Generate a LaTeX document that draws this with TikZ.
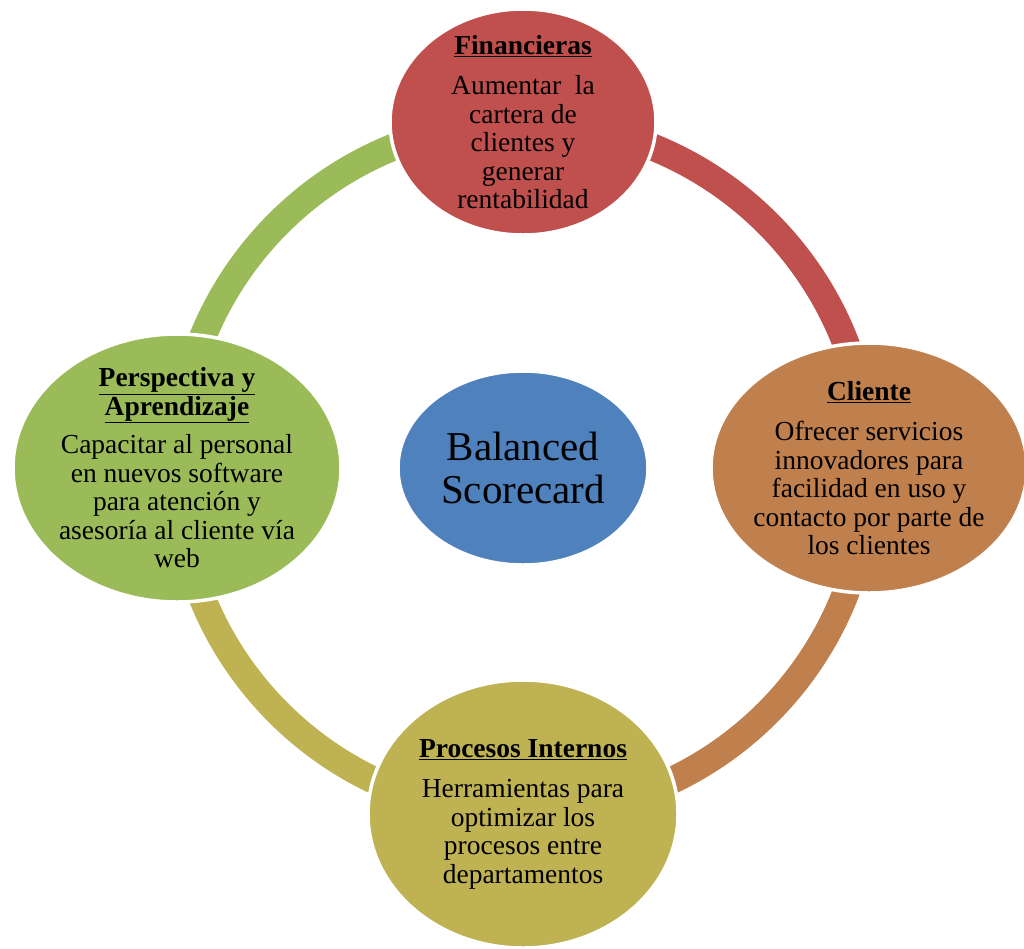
\documentclass[tikz,border=0pt]{standalone}
\usepackage{fontspec}
\setmainfont{Liberation Serif}
\usetikzlibrary{positioning,shapes.geometric,backgrounds}
\definecolor{bscblue}{HTML}{4F81BD}
\definecolor{finred}{HTML}{C0504D}
\definecolor{cliorange}{HTML}{C0804D}
\definecolor{prolive}{HTML}{BFB253}
\definecolor{pergreen}{HTML}{9BBB59}
\newcommand{\ttl}[1]{\underline{\textbf{#1}}}

\begin{document}
\begin{tikzpicture}[x=1pt, y=1pt, node distance=346pt,
main node/.style={ellipse,draw=white,line width=3.5pt,inner sep=0pt},
label text/.style={align=center,font=\fontsize{27.5}{28.5}\selectfont},
ring/.style={line width=27pt}]

\useasboundingbox (0,0) rectangle (1024,-948);

\node[main node] [fill=bscblue, minimum width=250pt, minimum height=194pt] (bsc) at (523,-468) {};
\node[main node] [fill=finred, minimum width=266pt, minimum height=226pt] (fin) [above of=bsc] {};
\node[main node] [fill=cliorange, minimum width=316pt, minimum height=250pt] (cli) [right of=bsc] {};
\node[main node] [fill=prolive, minimum width=310pt, minimum height=268pt] (pro) [below of=bsc] {};
\node[main node] [fill=pergreen, minimum width=328pt, minimum height=268pt] (per) [left of=bsc] {};

% ring behind the ellipses
\begin{scope}[on background layer]
\draw[ring, pergreen] (per.center) arc[start angle=180, end angle=90, radius=346];
\draw[ring, finred] (fin.center) arc[start angle=90, end angle=0, radius=346];
\draw[ring, cliorange] (cli.center) arc[start angle=0, end angle=-90, radius=346];
\draw[ring, prolive] (pro.center) arc[start angle=-90, end angle=-180, radius=346];
\end{scope}

\node[align=center, font=\fontsize{41}{43}\selectfont] (bsctxt) at (bsc) {Balanced\\Scorecard};
\node[label text] (fintxt) at (fin) {\ttl{Financieras}\\[12pt]Aumentar~ la\\cartera de\\clientes y\\generar\\rentabilidad};
\node[label text] (clitxt) at (cli) {\ttl{Cliente}\\[12pt]Ofrecer servicios\\innovadores para\\facilidad en uso y\\contacto por parte de\\los clientes};
\node[label text] (protxt) at (pro) {\ttl{Procesos Internos}\\[12pt]Herramientas para\\optimizar los\\procesos entre\\departamentos};
\node[label text] (pertxt) at (per) {\ttl{Perspectiva y}\\\ttl{Aprendizaje}\\[10pt]Capacitar al personal\\en nuevos software\\para atención y\\asesoría al cliente vía\\web};
\end{tikzpicture}
\end{document}
